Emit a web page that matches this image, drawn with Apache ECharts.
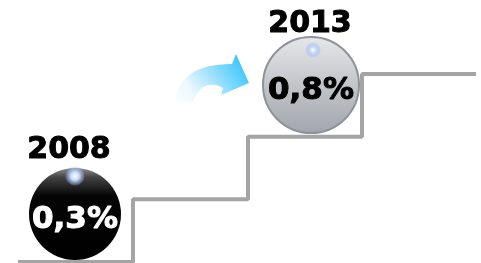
<!DOCTYPE html>
<html>
<head>
<meta charset="utf-8">
<script src="https://cdn.jsdelivr.net/npm/echarts@6/dist/echarts.min.js"></script>
<style>
html, body { margin: 0; padding: 0; background: #fff; }
#chart { width: 481px; height: 263px; }
</style>
</head>
<body>
<div id="chart"></div>
<script>
// stairs: corner x and level
var stepX = [18, 133, 248, 362, 476];
var stepLevel = [0, 1, 2, 3, 3];

// balls
var years = ['2008', '2013'];
var rates = ['0,3%', '0,8%'];
var ballX = [75, 311];
var ballLevel = [0.766, 2.824];
var ballSize = [92, 96];
var shineLevel = [1.372, 3.383];
var shineX = [75, 313];

var myChart = echarts.init(document.getElementById('chart'));

var linear = function(x, y, x2, y2, stops) {
	return { type: 'linear', x: x, y: y, x2: x2, y2: y2, colorStops: stops };
};

// quadratic curve -> points (for the arrow outline)
var quad = function(p0, c, p1, n) {
	var pts = [];
	for (var k = 0; k <= n; k++) {
		var t = k / n, u = 1 - t;
		pts.push([u * u * p0[0] + 2 * u * t * c[0] + t * t * p1[0],
			u * u * p0[1] + 2 * u * t * c[1] + t * t * p1[1]]);
	}
	return pts;
};
var arrowPts = quad([175, 105], [177, 64], [232, 64], 16)
	.concat([[236, 54], [249, 83], [221, 95]])
	.concat(quad([223, 88], [204, 77], [193, 101], 12));

var stairData = [];
for (var i = 0; i < stepX.length; i++) {
	stairData.push([stepX[i], stepLevel[i]]);
}

var blackBall = linear(0, 0, 0, 1, [
	{ offset: 0, color: '#8c8c8c' },
	{ offset: 0.1, color: '#444' },
	{ offset: 0.3, color: '#050505' },
	{ offset: 1, color: '#000' }
]);
var silverBall = linear(0, 0, 0, 1, [
	{ offset: 0, color: '#e6e7ea' },
	{ offset: 0.5, color: '#c2c5ca' },
	{ offset: 1, color: '#a2a6ac' }
]);
var shine = {
	type: 'radial', x: 0.5, y: 0.5, r: 0.5,
	colorStops: [
		{ offset: 0, color: '#ffffff' },
		{ offset: 0.45, color: '#c4d8f8' },
		{ offset: 1, color: 'rgba(150,180,240,0.25)' }
	]
};

var balls = [], yearPts = [], shines = [];
for (var j = 0; j < years.length; j++) {
	var txt = j == 0 ? '#fff' : '#000';
	balls.push({
		value: [ballX[j], ballLevel[j]],
		symbolSize: ballSize[j],
		itemStyle: j == 0 ? { color: blackBall, opacity: 1 } : { color: silverBall, borderColor: '#8d939a', borderWidth: 2, opacity: 1 },
		label: { color: txt, textBorderColor: txt, textBorderWidth: 1 }
	});
	yearPts.push({
		value: [ballX[j], ballLevel[j]],
		symbolSize: ballSize[j],
		label: { distance: j == 0 ? 3 : -2, offset: [j == 0 ? -6 : -1, 0] }
	});
	shines.push({ value: [shineX[j], shineLevel[j]], symbolSize: j == 0 ? 19 : 15 });
}

var option = {
	animation: false,
	grid: { left: 0, right: 0, top: 11.3, bottom: 1 },
	xAxis: { type: 'value', min: 0, max: 481, show: false },
	yAxis: { type: 'value', min: 0, max: 4, show: false },
	graphic: [{
		type: 'polygon',
		shape: { points: arrowPts },
		style: {
			fill: linear(0, 1, 1, 0, [
				{ offset: 0, color: 'rgba(255,255,255,1)' },
				{ offset: 0.25, color: 'rgba(235,247,255,1)' },
				{ offset: 1, color: '#1cbdfb' }
			])
		}
	}],
	series: [{
		type: 'line',
		step: 'end',
		data: stairData,
		symbol: 'none',
		lineStyle: { color: '#a4a4a4', width: 4 },
		z: 1
	}, {
		type: 'scatter',
		data: balls,
		clip: false,
		z: 3,
		label: {
			show: true,
			position: 'inside',
			offset: [0, 6],
			fontFamily: 'DejaVu Sans',
			fontWeight: 'bold',
			fontSize: 31,
			formatter: function(p) {
				return rates[p.dataIndex];
			}
		}
	}, {
		type: 'scatter',
		data: yearPts,
		clip: false,
		z: 4,
		itemStyle: { color: 'rgba(0,0,0,0)', opacity: 1 },
		label: {
			show: true,
			position: 'top',
			color: '#000',
			textBorderColor: '#000',
			textBorderWidth: 1,
			fontFamily: 'DejaVu Sans',
			fontWeight: 'bold',
			fontSize: 30,
			formatter: function(p) {
				return years[p.dataIndex];
			}
		}
	}, {
		type: 'scatter',
		data: shines,
		clip: false,
		z: 5,
		itemStyle: { color: shine, opacity: 1 }
	}]
};

myChart.setOption(option);
</script>
</body>
</html>
